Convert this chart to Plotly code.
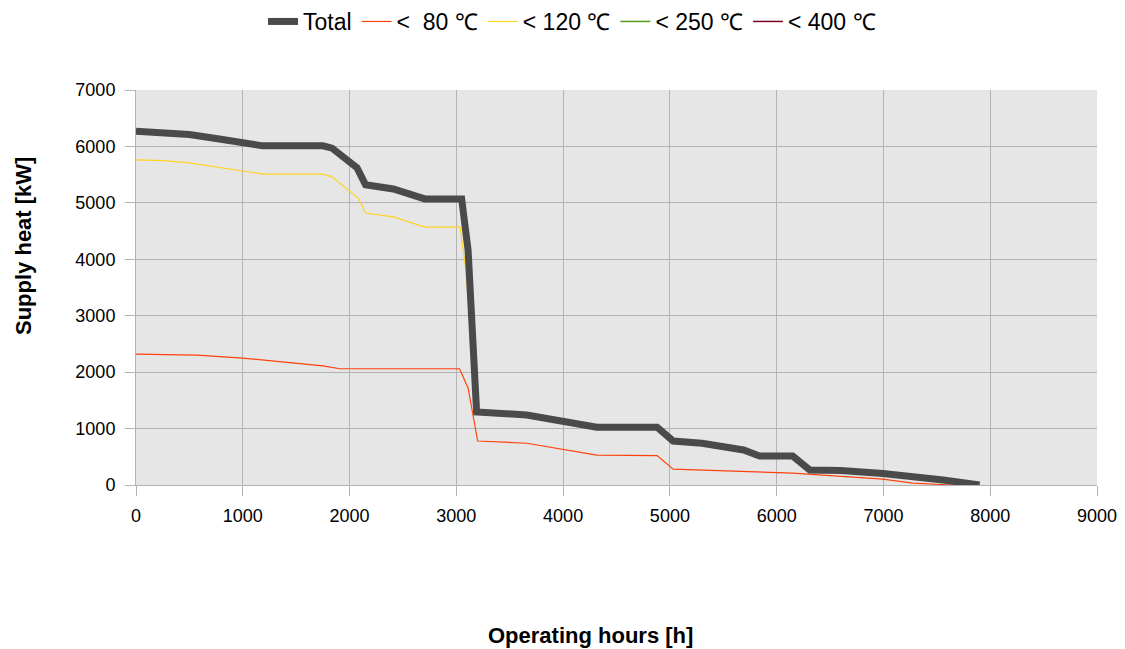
import plotly.graph_objects as go

# Total supply heat
total_h = [0, 250, 500, 750, 1000, 1190, 1500, 1750, 1835, 2070, 2150, 2410, 2705, 3050, 3110, 3190,
           3660, 4000, 4315, 4880, 5030, 5300, 5690, 5840, 6150, 6310, 6600, 6995, 7250, 7560, 7900]
total_kw = [6270, 6250, 6210, 6140, 6070, 6010, 6010, 6010, 5970, 5620, 5320, 5245, 5070, 5070, 4165, 1295,
            1240, 1140, 1025, 1025, 780, 740, 620, 515, 515, 265, 255, 205, 160, 90, 0]

# < 80 degC
t80_h = [0, 570, 1000, 1440, 1750, 1910, 3030, 3110, 3200, 3660, 4315, 4880, 5030, 6150, 6995, 7275, 7650]
t80_kw = [2320, 2300, 2250, 2160, 2110, 2060, 2060, 1720, 780, 740, 530, 520, 280, 210, 105, 35, 0]

# < 120 degC
t120_h = [0, 250, 500, 750, 1000, 1190, 1750, 1835, 2080, 2150, 2410, 2705, 3035, 3090, 3190,
          3660, 4000, 4315, 4880, 5030, 5300, 5690, 5840, 6150, 6310, 6600, 6995, 7250, 7560, 7900]
t120_kw = [5760, 5750, 5710, 5640, 5570, 5510, 5510, 5460, 5085, 4820, 4750, 4570, 4570, 3810, 1295,
           1240, 1140, 1025, 1025, 780, 740, 620, 515, 515, 265, 255, 205, 160, 90, 0]

# < 250 degC and < 400 degC (hidden under the total curve)
t250_h = total_h
t250_kw = total_kw
t400_h = total_h
t400_kw = total_kw

x_ticks = [0, 1000, 2000, 3000, 4000, 5000, 6000, 7000, 8000, 9000]
y_ticks = [0, 1000, 2000, 3000, 4000, 5000, 6000, 7000]

fig = go.Figure()
fig.add_trace(go.Scatter(x=t400_h, y=t400_kw, mode="lines", name="< 400 ℃",
                         line=dict(color="#7e0021", width=1.5), legendrank=5))
fig.add_trace(go.Scatter(x=t250_h, y=t250_kw, mode="lines", name="< 250 ℃",
                         line=dict(color="#579d1c", width=1.5), legendrank=4))
fig.add_trace(go.Scatter(x=t120_h, y=t120_kw, mode="lines", name="< 120 ℃",
                         line=dict(color="#ffd320", width=1.2), legendrank=3))
fig.add_trace(go.Scatter(x=t80_h, y=t80_kw, mode="lines", name="<  80 ℃",
                         line=dict(color="#ff420e", width=1.2), legendrank=2))
fig.add_trace(go.Scatter(x=total_h, y=total_kw, mode="lines", name="Total",
                         line=dict(color="#4a4a4a", width=7), legendrank=1))

font_family = "Liberation Sans, Arial, sans-serif"
L, R, T, B = 136, 28, 90, 164
W, H = 1125, 649
plot_w = W - L - R
plot_h = H - T - B

fig.update_layout(
    width=W, height=H,
    margin=dict(l=L, r=R, t=T, b=B),
    paper_bgcolor="white",
    plot_bgcolor="#e6e6e6",
    font=dict(family=font_family, size=18, color="black"),
    showlegend=True,
    legend=dict(orientation="h", x=(572 - L) / plot_w, xanchor="center", xref="paper",
                y=1.0, yref="container", yanchor="top",
                font=dict(size=23), itemwidth=30, traceorder="normal",
                bgcolor="rgba(0,0,0,0)"),
    xaxis=dict(range=[0, 9000], tickvals=x_ticks, showgrid=True, gridcolor="#b3b3b3",
               gridwidth=1, zeroline=False, showline=True, linecolor="#b3b3b3",
               ticks="outside", ticklen=10, tickcolor="#b3b3b3", automargin=False,
               ticklabelstandoff=4, tickfont=dict(size=18)),
    yaxis=dict(range=[0, 7000], tickvals=y_ticks, showgrid=True, gridcolor="#b3b3b3",
               gridwidth=1, zeroline=False, showline=True, linecolor="#b3b3b3",
               ticks="outside", ticklen=10, tickcolor="#b3b3b3", automargin=False,
               ticklabelstandoff=6, tickfont=dict(size=18)),
    annotations=[
        dict(text="<b>Operating hours [h]</b>", x=(590 - L) / plot_w, xref="paper",
             y=(485 + 0 - 635) / plot_h, yref="paper", yanchor="middle", xanchor="center",
             showarrow=False, font=dict(size=22)),
        dict(text="<b>Supply heat [kW]</b>", x=(23 - L) / plot_w, xref="paper",
             y=(485 - 246) / plot_h, yref="paper", yanchor="middle", xanchor="center",
             textangle=-90, showarrow=False, font=dict(size=22)),
    ],
)

fig.write_html("out.html")
